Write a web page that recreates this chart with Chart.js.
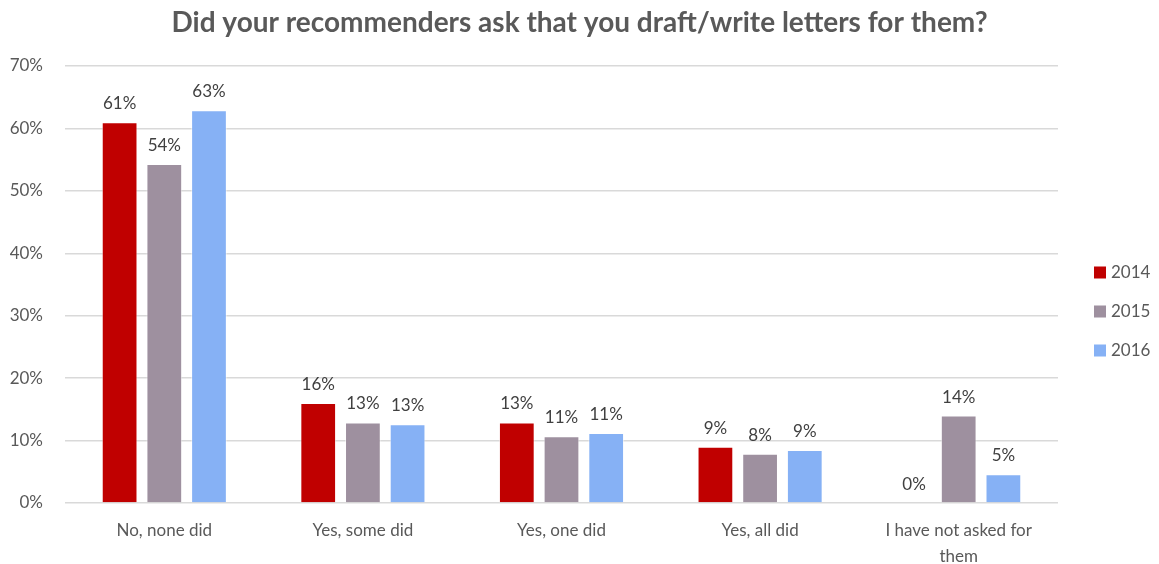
<!DOCTYPE html>
<html lang="en">
<head>
<meta charset="UTF-8" />
<title>Recommender letters survey</title>
<script src="https://cdn.jsdelivr.net/npm/chart.js"></script>
<style>
    html, body { margin: 0; padding: 0; background: #fff; }
    #wrap { width: 1159px; height: 564px; }
</style>
</head>
<body>
<div id="wrap"><canvas id="chart"></canvas></div>
<script>
    const categories = [
        'No, none did',
        'Yes, some did',
        'Yes, one did',
        'Yes, all did',
        ['I have not asked for', 'them']
    ];
    const years = ['2014', '2015', '2016'];
    const values2014 = [61, 16, 12.9, 9, 0];
    const values2015 = [54.3, 12.9, 10.7, 7.9, 14];
    const values2016 = [62.9, 12.6, 11.2, 8.5, 4.6];
    const yTicks = [0, 10, 20, 30, 40, 50, 60, 70];

    const chartTitle = 'Did your recommenders ask that you draft/write letters for them?';
    const colors = ['#c00000', '#9e909f', '#86b1f5'];
    const textColor = '#595959';

    // percent labels above each bar
    const barLabels = {
        id: 'barLabels',
        afterDatasetsDraw(chart) {
            const ctx = chart.ctx;
            ctx.save();
            ctx.font = '17px Lato';
            ctx.fillStyle = '#404040';
            ctx.textAlign = 'center';
            ctx.textBaseline = 'bottom';
            chart.data.datasets.forEach((ds, i) => {
                chart.getDatasetMeta(i).data.forEach((bar, j) => {
                    ctx.fillText(Math.round(ds.data[j]) + '%', bar.x, bar.y - 10);
                });
            });
            ctx.restore();
        }
    };

    // title centred on the whole canvas, legend stacked in the right margin
    const frame = {
        id: 'frame',
        afterDraw(chart) {
            const ctx = chart.ctx;
            const area = chart.chartArea;
            ctx.save();
            ctx.font = 'bold 28px Lato';
            ctx.fillStyle = textColor;
            ctx.textAlign = 'center';
            ctx.textBaseline = 'middle';
            ctx.fillText(chartTitle, chart.width / 2, 23);

            const x = area.right + 36;
            const gap = 39;
            const mid = (area.top + area.bottom) / 2 + 27;
            ctx.font = '17px Lato';
            ctx.textAlign = 'left';
            chart.data.datasets.forEach((ds, i) => {
                const y = mid + (i - 1) * gap;
                ctx.fillStyle = ds.backgroundColor;
                ctx.fillRect(x, y - 6, 12, 12);
                ctx.fillStyle = textColor;
                ctx.fillText(ds.label, x + 17, y);
            });
            ctx.restore();
        }
    };

    new Chart(document.getElementById('chart'), {
        type: 'bar',
        data: {
            labels: categories,
            datasets: [values2014, values2015, values2016].map((vals, i) => ({
                label: years[i],
                data: vals,
                backgroundColor: colors[i],
                borderColor: 'rgba(255,255,255,0.5)',
                borderWidth: 1,
                categoryPercentage: 0.675,
                barPercentage: 0.8
            }))
        },
        options: {
            responsive: true,
            maintainAspectRatio: false,
            animation: false,
            layout: { padding: { left: 0, right: 101, top: 66, bottom: 0 } },
            scales: {
                x: {
                    grid: { display: false, drawTicks: false },
                    border: { display: false },
                    afterFit: scale => { scale.height = 61; },
                    ticks: {
                        color: textColor,
                        font: { family: 'Lato', size: 17, lineHeight: 1.5 },
                        padding: 15, maxRotation: 0, autoSkip: false
                    }
                },
                y: {
                    min: 0,
                    max: 70,
                    afterBuildTicks: axis => { axis.ticks = yTicks.map(v => ({ value: v })); },
                    afterFit: scale => { scale.width = 65; },
                    grid: { color: '#d9d9d9', lineWidth: 1.5, drawTicks: false },
                    border: { display: false },
                    ticks: { color: textColor, font: { family: 'Lato', size: 17 }, padding: 22, callback: v => v + '%' }
                }
            },
            plugins: {
                title: { display: false },
                legend: { display: false },
                tooltip: { enabled: false }
            }
        },
        plugins: [barLabels, frame]
    });
</script>
</body>
</html>
